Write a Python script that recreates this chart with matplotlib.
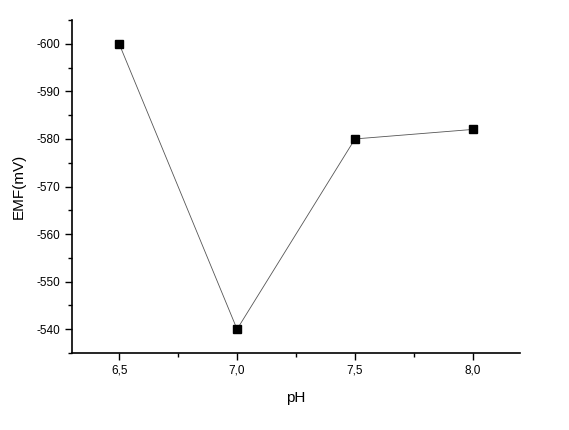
import matplotlib
matplotlib.use('Agg')
import matplotlib.pyplot as plt
from matplotlib.ticker import MultipleLocator, FuncFormatter

ph = [6.5, 7.0, 7.5, 8.0]
emf = [-600, -540, -580, -582]
x_ticks = [6.5, 7.0, 7.5, 8.0]
y_ticks = [-600, -590, -580, -570, -560, -550, -540]

plt.rcParams['font.family'] = ['Liberation Sans', 'DejaVu Sans']

fig = plt.figure(figsize=(5.69, 4.30), dpi=100)
ax = fig.add_axes([0.1265, 0.179, 0.7875, 0.7745])

ax.plot(ph, emf, color='#555555', linewidth=0.6, marker='s', markersize=6,
        markerfacecolor='black', markeredgecolor='black')

ax.set_xlim(6.3, 8.2)
ax.set_ylim(-535, -605)

ax.set_xticks(x_ticks)
ax.set_yticks(y_ticks)
ax.xaxis.set_minor_locator(MultipleLocator(0.25))
ax.yaxis.set_minor_locator(MultipleLocator(5))
ax.xaxis.set_major_formatter(FuncFormatter(lambda v, p: '{:.1f}'.format(v).replace('.', ',')))
ax.yaxis.set_major_formatter(FuncFormatter(lambda v, p: '{:d}'.format(int(round(v)))))

# only left and bottom axis lines
ax.spines['top'].set_visible(False)
ax.spines['right'].set_visible(False)
for s in ['left', 'bottom']:
    ax.spines[s].set_linewidth(1.2)

ax.tick_params(which='major', direction='out', length=5, width=1, labelsize=8.5)
ax.tick_params(which='minor', direction='out', length=3, width=1)

ax.set_xlabel('pH', fontsize=11, labelpad=10)
ax.set_ylabel('EMF(mV)', fontsize=11, labelpad=8)

fig.savefig('out.png', dpi=100)
